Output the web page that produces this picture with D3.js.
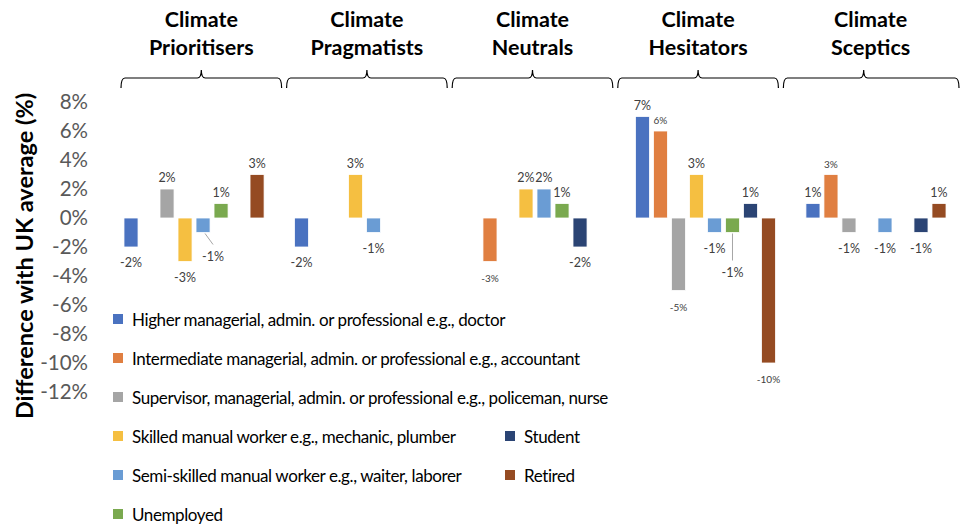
<!DOCTYPE html>
<meta charset='utf-8'>
<head>
  <title>Occupation by climate segment</title>
  <style>
    body { margin: 0; background: #fff; }
    svg { display: block; font-family: Lato, 'Open Sans', sans-serif; }
  </style>
</head>
<body>
  <div id='chart'></div>
</body>
<script src='https://d3js.org/d3.v7.min.js'></script>
<script>

var segments = ['Climate Prioritisers', 'Climate Pragmatists', 'Climate Neutrals', 'Climate Hesitators', 'Climate Sceptics'];

var occupations = [
  'Higher managerial, admin. or professional e.g., doctor',
  'Intermediate managerial, admin. or professional e.g., accountant',
  'Supervisor, managerial, admin. or professional e.g., policeman, nurse',
  'Skilled manual worker e.g., mechanic, plumber',
  'Semi-skilled manual worker e.g., waiter, laborer',
  'Unemployed',
  'Student',
  'Retired'
];

// difference with UK average (%), one row per segment, null = no bar
var prioritisers = [-2, null, 2, -3, -1, 1, null, 3],
    pragmatists  = [-2, null, null, 3, -1, null, null, null],
    neutrals     = [null, -3, null, 2, 2, 1, -2, null],
    hesitators   = [7, 6, -5, 3, -1, -1, 1, -10],
    sceptics     = [1, 3, -1, null, -1, null, -1, 1];

var yTicks = [8, 6, 4, 2, 0, -2, -4, -6, -8, -10, -12];

var colors = ['#4a72c0', '#e07f41', '#a5a5a5', '#f5bf41', '#6a9cd4', '#7aa94f', '#2b4474', '#954b22'];

var width = 970, height = 524;

var rows = [prioritisers, pragmatists, neutrals, hesitators, sceptics];
var bars = [];
rows.forEach(function(vals, g) {
  vals.forEach(function(v, c) {
    if (v !== null) bars.push({ seg: segments[g], g: g, c: c, occ: occupations[c], value: v });
  });
});

// a few labels sit on a leader line, a few are drawn smaller
var leaders = { '0-4': [10, 24], '3-5': [0, 40] };
var smallLabels = { '2-1': 1, '3-1': 1, '4-1': 1, '3-2': 1, '3-7': 1 };

var svg = d3.select('#chart').append('svg')
    .attr('width', width)
    .attr('height', height);

var y = d3.scaleLinear().domain([-12, 8]).range([392, 102]);

var x0 = d3.scaleBand().domain(segments).range([122, 948]).paddingInner(0.155);
var x1 = d3.scaleBand().domain(d3.range(8)).range([0, x0.bandwidth()])
    .paddingInner(0.22).paddingOuter(0.11);

// y axis
var yAxis = svg.append('g')
    .attr('transform', 'translate(96,0)')
    .call(d3.axisLeft(y).tickValues(yTicks).tickSize(0).tickPadding(8)
      .tickFormat(function(d) { return d + '%'; }));
yAxis.select('.domain').remove();
yAxis.selectAll('text')
    .attr('fill', '#595959')
    .style('font-size', '20.5px')
    .style('font-family', 'Lato, sans-serif');

svg.append('text')
    .attr('transform', 'translate(33,256) rotate(-90)')
    .attr('text-anchor', 'middle')
    .style('font-size', '23.5px')
    .style('font-weight', 'bold')
    .text('Difference with UK average (%)');

// bars
svg.append('g').selectAll('rect')
    .data(bars)
  .enter().append('rect')
    .attr('x', function(d) { return x0(d.seg) + x1(d.c); })
    .attr('y', function(d) { return y(Math.max(0, d.value)); })
    .attr('width', x1.bandwidth())
    .attr('height', function(d) { return Math.abs(y(d.value) - y(0)); })
    .attr('fill', function(d) { return colors[d.c]; })
    .attr('stroke', '#fff')
    .attr('stroke-width', 0.8);

// leader lines
svg.append('g').selectAll('line')
    .data(bars.filter(function(d) { return leaders[d.g + '-' + d.c]; }))
  .enter().append('line')
    .attr('x1', function(d) { return x0(d.seg) + x1(d.c) + x1.bandwidth() / 2 + (leaders[d.g + '-' + d.c][0] ? 2 : 0); })
    .attr('y1', function(d) { return y(d.value) + 1; })
    .attr('x2', function(d) { return x0(d.seg) + x1(d.c) + x1.bandwidth() / 2 + leaders[d.g + '-' + d.c][0]; })
    .attr('y2', function(d) { return y(d.value) + leaders[d.g + '-' + d.c][1] - 12; })
    .attr('stroke', '#a6a6a6')
    .attr('stroke-width', 1);

// value labels
svg.append('g').selectAll('text')
    .data(bars)
  .enter().append('text')
    .attr('x', function(d) {
      var off = leaders[d.g + '-' + d.c];
      return x0(d.seg) + x1(d.c) + x1.bandwidth() / 2 + (off ? off[0] : 0);
    })
    .attr('y', function(d) {
      var off = leaders[d.g + '-' + d.c];
      if (off) return y(d.value) + off[1] + 4;
      return d.value > 0 ? y(d.value) - 7 : y(d.value) + 20;
    })
    .attr('text-anchor', 'middle')
    .attr('fill', '#404040')
    .style('font-size', function(d) { return smallLabels[d.g + '-' + d.c] ? '10px' : '12.5px'; })
    .text(function(d) { return d.value + '%'; });

// segment headers with curly brackets
var bx = d3.scaleBand().domain(segments).range([121, 944]).paddingInner(0.03);

var head = svg.append('g').selectAll('g')
    .data(segments)
  .enter().append('g');

head.append('path')
    .attr('d', function(d, i) {
      var a = bx(d), b = bx(d) + bx.bandwidth() + (i === segments.length - 1 ? 15 : 0), m = bx(d) + bx.bandwidth() / 2;
      return 'M' + a + ',88 Q' + a + ',78 ' + (a + 4) + ',78 L' + (m - 4) + ',78 Q' + m + ',78 ' + m + ',70' +
             ' Q' + m + ',78 ' + (m + 4) + ',78 L' + (b - 4) + ',78 Q' + b + ',78 ' + b + ',88';
    })
    .attr('fill', 'none')
    .attr('stroke', '#000')
    .attr('stroke-width', 1.2);

head.append('text')
    .attr('text-anchor', 'middle')
    .style('font-size', '21.5px')
    .style('font-weight', 'bold')
    .selectAll('tspan')
    .data(function(d, i) {
      var m = bx(d) + bx.bandwidth() / 2 + (i === segments.length - 1 ? 7 : 0);
      return d.split(' ').map(function(w, k) { return { w: w, x: m, k: k }; });
    })
  .enter().append('tspan')
    .attr('x', function(t) { return t.x; })
    .attr('y', function(t) { return 27 + t.k * 28; })
    .text(function(t) { return t.w; });

// legend
var legendPos = [[0, 0], [0, 1], [0, 2], [0, 3], [0, 4], [0, 5], [1, 3], [1, 4]];
var lx = d3.scaleOrdinal().domain([0, 1]).range([113, 505]);
var ly = d3.scaleLinear().domain([0, 5]).range([319, 514]);

var legend = svg.append('g').selectAll('g')
    .data(occupations)
  .enter().append('g')
    .attr('transform', function(d, i) { return 'translate(' + lx(legendPos[i][0]) + ',' + ly(legendPos[i][1]) + ')'; });

legend.append('rect')
    .attr('x', 0).attr('y', -5)
    .attr('width', 10).attr('height', 10)
    .attr('fill', function(d, i) { return colors[i]; });

legend.append('text')
    .attr('x', 19)
    .attr('y', 6.5)
    .style('font-size', '17px')
    .style('letter-spacing', '-0.4px')
    .attr('fill', '#000')
    .text(function(d) { return d; });

</script>
